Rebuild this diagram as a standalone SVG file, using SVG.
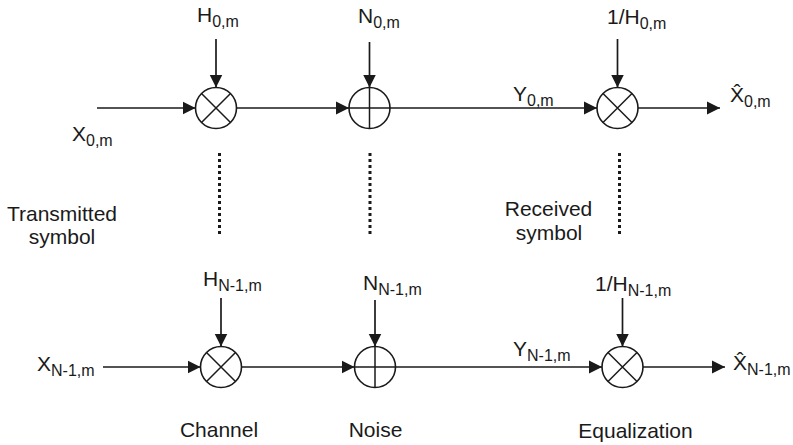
<svg xmlns="http://www.w3.org/2000/svg" width="793" height="445" viewBox="0 0 793 445">
<style>
.ln{stroke:#1a1a1a;stroke-width:1.7;fill:none}
.cr{stroke:#1a1a1a;stroke-width:1.6;fill:#fff}
.op{stroke:#1a1a1a;stroke-width:1.5;fill:none}
.dot{stroke:#1a1a1a;stroke-width:3;stroke-dasharray:3 3;fill:none}
text{font-family:"Liberation Sans",Arial,sans-serif;font-size:21px;fill:#1a1a1a}
.sb{font-size:16px}
</style>
<defs>
<marker id="ah" markerWidth="14" markerHeight="14" refX="13" refY="7" orient="auto" markerUnits="userSpaceOnUse">
<path d="M0,0.5 L13,7 L0,13.5 Z" fill="#1a1a1a"/>
</marker>
</defs>
<g id="connectors">
<line class="ln" x1="97" y1="108" x2="195.5" y2="108" marker-end="url(#ah)"/>
<line class="ln" x1="216" y1="39" x2="216" y2="87.5" marker-end="url(#ah)"/>
<line class="ln" x1="236.5" y1="108" x2="349" y2="108" marker-end="url(#ah)"/>
<line class="ln" x1="369.5" y1="42" x2="369.5" y2="87.5" marker-end="url(#ah)"/>
<line class="ln" x1="390" y1="108" x2="597" y2="108" marker-end="url(#ah)"/>
<line class="ln" x1="617.5" y1="39" x2="617.5" y2="87.5" marker-end="url(#ah)"/>
<line class="ln" x1="638" y1="108" x2="720" y2="108" marker-end="url(#ah)"/>
<line class="ln" x1="103" y1="367" x2="200.5" y2="367" marker-end="url(#ah)"/>
<line class="ln" x1="221" y1="298" x2="221" y2="346.5" marker-end="url(#ah)"/>
<line class="ln" x1="241.5" y1="367" x2="354.5" y2="367" marker-end="url(#ah)"/>
<line class="ln" x1="375" y1="300" x2="375" y2="346.5" marker-end="url(#ah)"/>
<line class="ln" x1="395.5" y1="367" x2="602" y2="367" marker-end="url(#ah)"/>
<line class="ln" x1="622.5" y1="298" x2="622.5" y2="346.5" marker-end="url(#ah)"/>
<line class="ln" x1="643" y1="367" x2="725" y2="367" marker-end="url(#ah)"/>
<line class="dot" x1="219.5" y1="153" x2="219.5" y2="237"/>
<line class="dot" x1="370" y1="153" x2="370" y2="237"/>
<line class="dot" x1="619.5" y1="153" x2="619.5" y2="237"/>
</g>
<g id="mul-h0">
<circle class="cr" cx="216" cy="108" r="20.5"/>
<path class="op" d="M201.5,93.5 L230.5,122.5 M230.5,93.5 L201.5,122.5"/>
</g>
<g id="add-n0">
<circle class="cr" cx="369.5" cy="108" r="20.5"/>
<path class="op" d="M349,108 H390 M369.5,87.5 V128.5"/>
</g>
<g id="mul-eq0">
<circle class="cr" cx="617.5" cy="108" r="20.5"/>
<path class="op" d="M603,93.5 L632,122.5 M632,93.5 L603,122.5"/>
</g>
<g id="mul-hn">
<circle class="cr" cx="221" cy="367" r="20.5"/>
<path class="op" d="M206.5,352.5 L235.5,381.5 M235.5,352.5 L206.5,381.5"/>
</g>
<g id="add-nn">
<circle class="cr" cx="375" cy="367" r="20.5"/>
<path class="op" d="M354.5,367 H395.5 M375,346.5 V387.5"/>
</g>
<g id="mul-eqn">
<circle class="cr" cx="622.5" cy="367" r="20.5"/>
<path class="op" d="M608,352.5 L637,381.5 M637,352.5 L608,381.5"/>
</g>
<g id="labels">
<text x="197" y="22">H<tspan class="sb" dy="5">0,m</tspan></text>
<text x="358" y="23">N<tspan class="sb" dy="5">0,m</tspan></text>
<text x="607" y="24">1/H<tspan class="sb" dy="5">0,m</tspan></text>
<text x="72" y="141">X<tspan class="sb" dy="5">0,m</tspan></text>
<text x="513" y="101">Y<tspan class="sb" dy="5">0,m</tspan></text>
<text x="730" y="102">X̂<tspan class="sb" dy="5">0,m</tspan></text>
<text x="62" y="221" text-anchor="middle">Transmitted</text>
<text x="62" y="244" text-anchor="middle">symbol</text>
<text x="548.5" y="216" text-anchor="middle">Received</text>
<text x="549" y="240" text-anchor="middle">symbol</text>
<text x="203" y="286">H<tspan class="sb" dy="5">N-1,m</tspan></text>
<text x="363" y="290">N<tspan class="sb" dy="5">N-1,m</tspan></text>
<text x="595" y="291">1/H<tspan class="sb" dy="5">N-1,m</tspan></text>
<text x="37" y="371">X<tspan class="sb" dy="5">N-1,m</tspan></text>
<text x="513" y="356">Y<tspan class="sb" dy="5">N-1,m</tspan></text>
<text x="733" y="370">X̂<tspan class="sb" dy="5">N-1,m</tspan></text>
<text x="219" y="437" text-anchor="middle">Channel</text>
<text x="375.5" y="437" text-anchor="middle">Noise</text>
<text x="635.5" y="438" text-anchor="middle">Equalization</text>
</g>
</svg>
